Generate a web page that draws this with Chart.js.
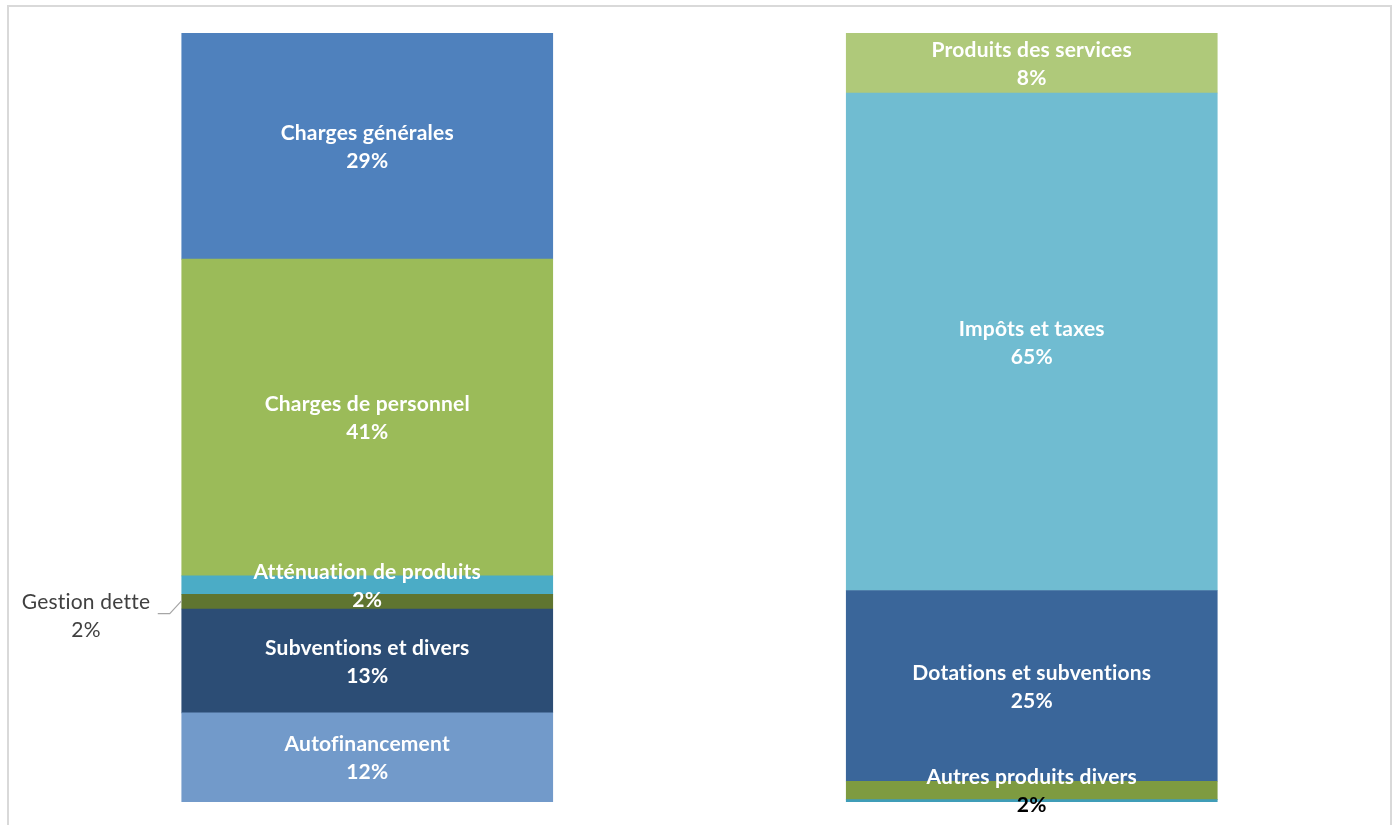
<!DOCTYPE html>
<html>
<head>
<meta charset="utf-8">
<script src="https://cdn.jsdelivr.net/npm/chart.js@4.4.1/dist/chart.umd.min.js"></script>
<style>
  html, body { margin: 0; padding: 0; background: #ffffff; overflow: hidden; }
  #frame { position: absolute; left: 7px; top: 5px; width: 1385px; height: 900px; border: 2px solid #d9d9d9; box-sizing: border-box; }
  #wrap { position: absolute; left: 0; top: 0; width: 1397px; height: 825px; }
</style>
</head>
<body>
<div id="frame"></div>
<div id="wrap"><canvas id="c" width="1397" height="825"></canvas></div>
<script>
// Categories (two stacked columns)
const categories = ['Dépenses', 'Recettes'];

// Left column (bottom to top)
const leftNames  = ['Autofinancement', 'Subventions et divers', 'Gestion dette', 'Atténuation de produits', 'Charges de personnel', 'Charges générales'];
const leftValues = [11.6, 13.5, 1.9, 2.4, 41.2, 29.4];
const leftPct    = ['12%', '13%', '2%', '2%', '41%', '29%'];
const leftColors = ['#729aca', '#2c4d75', '#5f7530', '#4bacc6', '#9bbb59', '#4f81bd'];

// Right column (bottom to top)
const rightNames  = ['Produits exceptionnels', 'Autres produits divers', 'Dotations et subventions', 'Impôts et taxes', 'Produits des services'];
const rightValues = [0.3, 2.4, 24.8, 64.7, 7.8];
const rightPct    = ['', '2%', '25%', '65%', '8%'];
const rightColors = ['#3f9db8', '#7e9b40', '#3a669a', '#70bcd1', '#afc97a'];

const datasets = [];
leftNames.forEach((n, i) => datasets.push({
  label: n, data: [leftValues[i], null], backgroundColor: leftColors[i],
  pct: leftPct[i], side: 0
}));
rightNames.forEach((n, i) => datasets.push({
  label: n, data: [null, rightValues[i]], backgroundColor: rightColors[i],
  pct: rightPct[i], side: 1
}));

const FONT = 'Lato, "Open Sans", sans-serif';

const labelPlugin = {
  id: 'segLabels',
  afterDatasetsDraw(chart) {
    const ctx = chart.ctx;
    ctx.save();
    ctx.textAlign = 'center';
    ctx.textBaseline = 'middle';
    if ('letterSpacing' in ctx) ctx.letterSpacing = '0.2px';
    chart.data.datasets.forEach((ds, di) => {
      const meta = chart.getDatasetMeta(di);
      const el = meta.data[ds.side];
      if (!el || !ds.pct) return;
      const p = el.getProps(['x', 'y', 'base', 'width'], true);
      const cy = (p.y + p.base) / 2;
      if (ds.label === 'Gestion dette') {
        // external label with leader line
        const left = p.x - p.width / 2;
        ctx.strokeStyle = '#a6a6a6';
        ctx.lineWidth = 1.2;
        ctx.beginPath();
        ctx.moveTo(left, cy - 1);
        ctx.lineTo(left - 12, cy + 12);
        ctx.lineTo(left - 24, cy + 12);
        ctx.stroke();
        ctx.fillStyle = '#404040';
        ctx.font = '400 21px ' + FONT;
        ctx.fillText(ds.label, 86, cy + 1);
        ctx.fillText(ds.pct, 86, cy + 29);
        return;
      }
      ctx.font = '700 21px ' + FONT;
      ctx.fillStyle = '#ffffff';
      ctx.fillText(ds.label, p.x, cy - 13);
      ctx.fillStyle = ds.label === 'Autres produits divers' ? '#000000' : '#ffffff';
      ctx.fillText(ds.pct, p.x, cy + 15);
    });
    ctx.restore();
  }
};

new Chart(document.getElementById('c'), {
  type: 'bar',
  data: { labels: categories, datasets: datasets },
  options: {
    responsive: false,
    animation: false,
    layout: { padding: { top: 33, bottom: 23, left: 35, right: 33 } },
    datasets: { bar: { barThickness: 371, borderWidth: 0 } },
    plugins: { legend: { display: false }, tooltip: { enabled: false } },
    scales: {
      x: { stacked: true, display: false },
      y: { stacked: true, display: false, min: 0, max: 100 }
    }
  },
  plugins: [labelPlugin]
});
</script>
</body>
</html>
